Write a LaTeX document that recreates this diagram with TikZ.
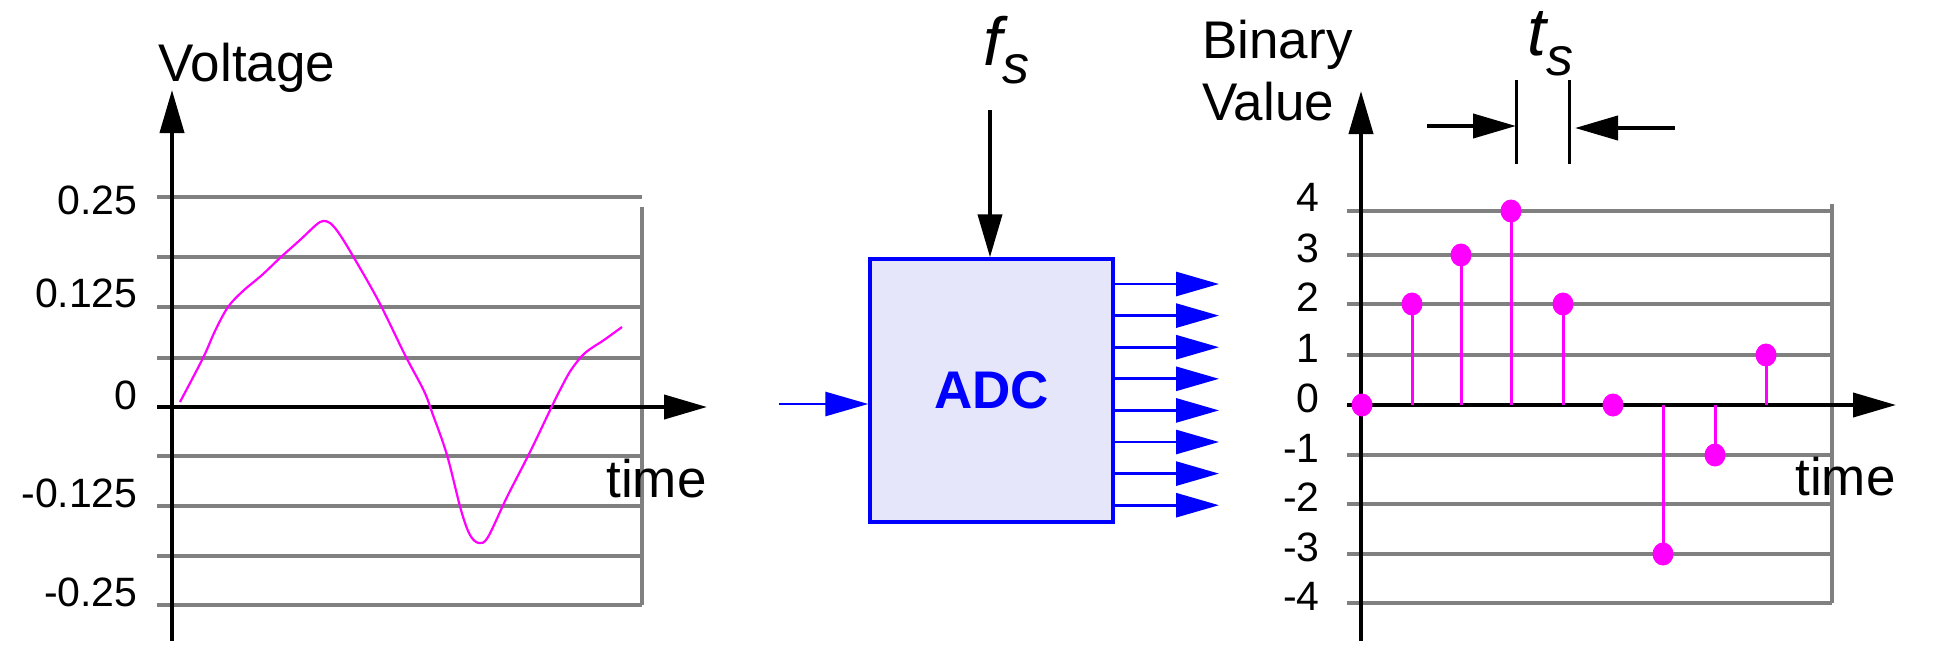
\documentclass[tikz,border=0pt]{standalone}
\usepackage{fontspec}
\setmainfont{Liberation Sans}
\usetikzlibrary{arrows.meta,shapes.geometric}
\definecolor{adcfill}{RGB}{230,230,250}
\definecolor{mag}{RGB}{255,0,255}
\begin{document}
\begin{tikzpicture}[x=0.5pt, y=-0.5pt,
  axis/.style={line width=2pt, -{Triangle[length=21.5pt, width=12pt]}},
  grid/.style={draw=gray, line width=1.6pt},
  wire/.style={blue, line width=1.4pt, -{Triangle[length=21.5pt, width=12pt]}},
  clock/.style={line width=2pt, -{Triangle[length=21.5pt, width=12pt]}},
  stem/.style={mag, line width=1.5pt},
  sample/.style={ellipse, fill=mag, inner sep=0pt, minimum width=10.5pt, minimum height=11.5pt},
  num/.style={font=\fontsize{20.5}{20.5}\selectfont, inner sep=0pt},
  title/.style={font=\fontsize{26.5}{30}\selectfont, inner sep=0pt},
  adc/.style={draw=blue, line width=1.7pt, fill=adcfill, minimum width=121.5pt, minimum height=131.5pt, text=blue, font=\fontsize{26.5}{26.5}\selectfont\bfseries}]
  \useasboundingbox (0,0) rectangle (1944,660);

  \foreach \y in {197,257,307,358,456,506,556,605} \draw[grid] (157,\y) -- (642,\y);
  \draw[grid] (642,207) -- (642,605);
  \node[num, anchor=east] (v1) at (138,200) {0.25};
  \node[num, anchor=base east] (v2) at (138,307) {0.125};
  \node[num, anchor=base east] (v3) at (138,409) {0};
  \node[num, anchor=base east] (v4) at (138,507) {-0.125};
  \node[num, anchor=base east] (v5) at (138,606) {-0.25};
  \coordinate (o1) at (172,641);
  \coordinate (top1) at (172,90);
  \coordinate (xs1) at (157,407);
  \coordinate (xe1) at (707,407);
  \draw[axis] (o1) -- (top1);
  \draw[axis] (xs1) -- (xe1);
  \node[title, anchor=base west] (volt) at (158,81) {Voltage};
  \node[title, anchor=base east] (time1) at (707,497) {time};
  \draw[mag, line width=1.1pt] plot[smooth, tension=0.55] coordinates {(180,402) (203,358) (215,331) (228,307) (243,291) (262,275) (281,257) (300,240) (316,225) (323,221) (330,223) (338,232) (350,251) (378,300) (405,355) (424,391) (433,415) (447,455) (461,510) (470,535) (479,543) (488,537) (507,497) (530,452) (553,404) (560,390) (571,370) (585,353) (604,340) (622,327)};

  \node[adc] (adc) at (991.5,390.5) {ADC};
  \coordinate (in) at (779,404);
  \draw[wire] (in) -- (in -| adc.west);
  \foreach \i in {0,...,7} {
    \coordinate (out\i) at (1219,{284+31.6*\i});
    \draw[wire] (adc.east |- out\i) -- (out\i);
  }
  \coordinate (clk) at (990,110);
  \draw[clock] (clk) -- (clk |- adc.north);
  \node[anchor=base west, inner sep=0pt] (fs) at (983,65) {\fontsize{34}{34}\selectfont\itshape f\raisebox{-9pt}{\fontsize{27}{27}\selectfont s}};

  \foreach \y in {211,255,304,355,455,504,554,603} \draw[grid] (1347,\y) -- (1832,\y);
  \draw[grid] (1832,204) -- (1832,603);
  \node[num, anchor=base east] (b0) at (1320,211) {4};
  \foreach \v/\y [count=\k] in {3/255,2/304,1/355,0/405,-1/455,-2/504,-3/554,-4/603}
    \node[num, anchor=base east] (b\k) at (1320,{\y+7}) {\v};
  \coordinate (o2) at (1361,641);
  \coordinate (top2) at (1361,91);
  \coordinate (xs2) at (1347,405);
  \coordinate (xe2) at (1896,405);
  \draw[axis] (o2) -- (top2);
  \draw[axis] (xs2) -- (xe2);
  \node[title, anchor=base west] (bin) at (1202,58) {Binary};
  \node[title, anchor=base west] (val) at (1202,120) {Value};
  \node[title, anchor=base east] (time2) at (1896,495) {time};
  \foreach \x/\y [count=\k] in {1362/405,1412/304,1461/255,1511/211,1563/304,1613/405,1663/554,1715/455,1766/355} {
    \draw[stem] (\x,405) -- (\x,\y);
    \node[sample] (s\k) at (\x,\y) {};
  }

  \coordinate (ta) at (1516,80);
  \coordinate (tb) at (1569,80);
  \draw[line width=1.5pt] (ta) -- ++(0,84);
  \draw[line width=1.5pt] (tb) -- ++(0,84);
  \coordinate (tl) at (1427,126);
  \coordinate (tr) at (1675,128);
  \draw[clock] (tl) -- (tl -| ta);
  \draw[clock] (tr) -- ([xshift=3pt]tr -| tb);
  \node[anchor=base west, inner sep=0pt] (ts) at (1527,55) {\fontsize{34}{34}\selectfont\itshape t\raisebox{-10pt}{\fontsize{27}{27}\selectfont s}};
\end{tikzpicture}
\end{document}
